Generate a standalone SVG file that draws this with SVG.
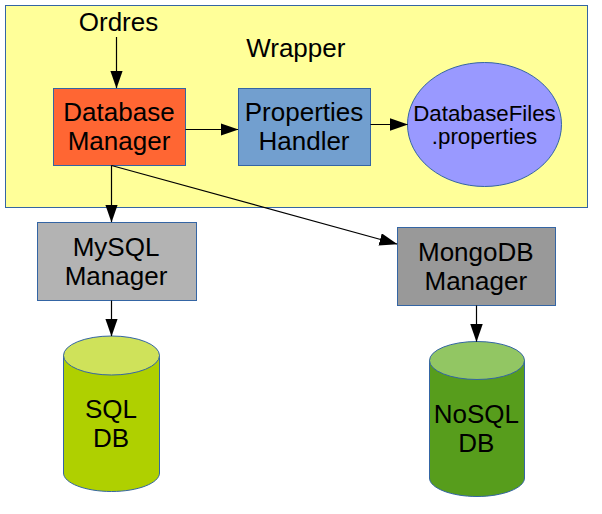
<svg xmlns="http://www.w3.org/2000/svg" width="602" height="514" viewBox="0 0 602 514">
<style>
text{font-family:"Liberation Sans",Arial,sans-serif;font-size:26px;fill:#000;text-anchor:middle}
.s{stroke:#3465a4;stroke-width:1}
.c{stroke:#000;stroke-width:1.2;fill:none;marker-end:url(#a)}
</style>
<defs><marker id="a" markerUnits="userSpaceOnUse" markerWidth="18" markerHeight="13" refX="17.5" refY="6.25" orient="auto"><path d="M0 0L18 6.25L0 12.5Z" fill="#000"/></marker></defs>
<rect width="602" height="514" fill="#fff"/>
<g id="wrapper"><rect class="s" x="5.500" y="5.500" width="582" height="202" fill="#ffff99"/><text x="295.800" y="57">Wrapper</text></g>
<g id="ordres"><text x="118.500" y="31">Ordres</text></g>
<g id="database-manager"><rect class="s" x="53.500" y="88.500" width="132" height="77" fill="#ff6633"/><text x="119" y="121">Database</text><text x="119" y="150">Manager</text></g>
<g id="properties-handler"><rect class="s" x="238.500" y="88.500" width="132" height="77" fill="#729fcf"/><text x="304" y="121">Properties</text><text x="304" y="150">Handler</text></g>
<g id="database-files"><ellipse class="s" cx="484.500" cy="124.500" rx="77" ry="62" fill="#9999ff"/><text x="484.500" y="121" style="font-size:22.300px">DatabaseFiles</text><text x="484.500" y="144" style="font-size:22.300px">.properties</text></g>
<g id="mysql-manager"><rect class="s" x="37.500" y="222.500" width="159" height="78" fill="#b3b3b3"/><text x="116" y="256">MySQL</text><text x="116" y="285">Manager</text></g>
<g id="mongodb-manager"><rect class="s" x="397.500" y="227.500" width="158" height="78" fill="#999999"/><text x="475.800" y="261">MongoDB</text><text x="475.800" y="290">Manager</text></g>
<g id="sql-db"><path class="s" d="M63.500 355.500V473C63.500 483 85 491.500 111.500 491.500S159.500 483 159.500 473V355.500Z" fill="#afd000"/><ellipse class="s" cx="111.500" cy="355.500" rx="48" ry="19.500" fill="#cfe25a"/><text x="111" y="418">SQL</text><text x="111" y="447">DB</text></g>
<g id="nosql-db"><path class="s" d="M429.500 360.500V478C429.500 488 451 496.500 477 496.500S524.500 488 524.500 478V360.500Z" fill="#579d1c"/><ellipse class="s" cx="477" cy="360.500" rx="47.500" ry="19" fill="#92c663"/><text x="476.300" y="423">NoSQL</text><text x="476.300" y="452">DB</text></g>
<g id="connectors">
<path class="c" d="M116.500 37V88"/>
<path class="c" d="M185.500 129.500H238"/>
<path class="c" d="M370.500 124.500H407.500"/>
<path class="c" d="M111.500 165.500V222"/>
<path class="c" d="M111.500 165.500L397 244"/>
<path class="c" d="M111.500 300.500V336"/>
<path class="c" d="M476.500 305.500V341.500"/>
</g>
</svg>
